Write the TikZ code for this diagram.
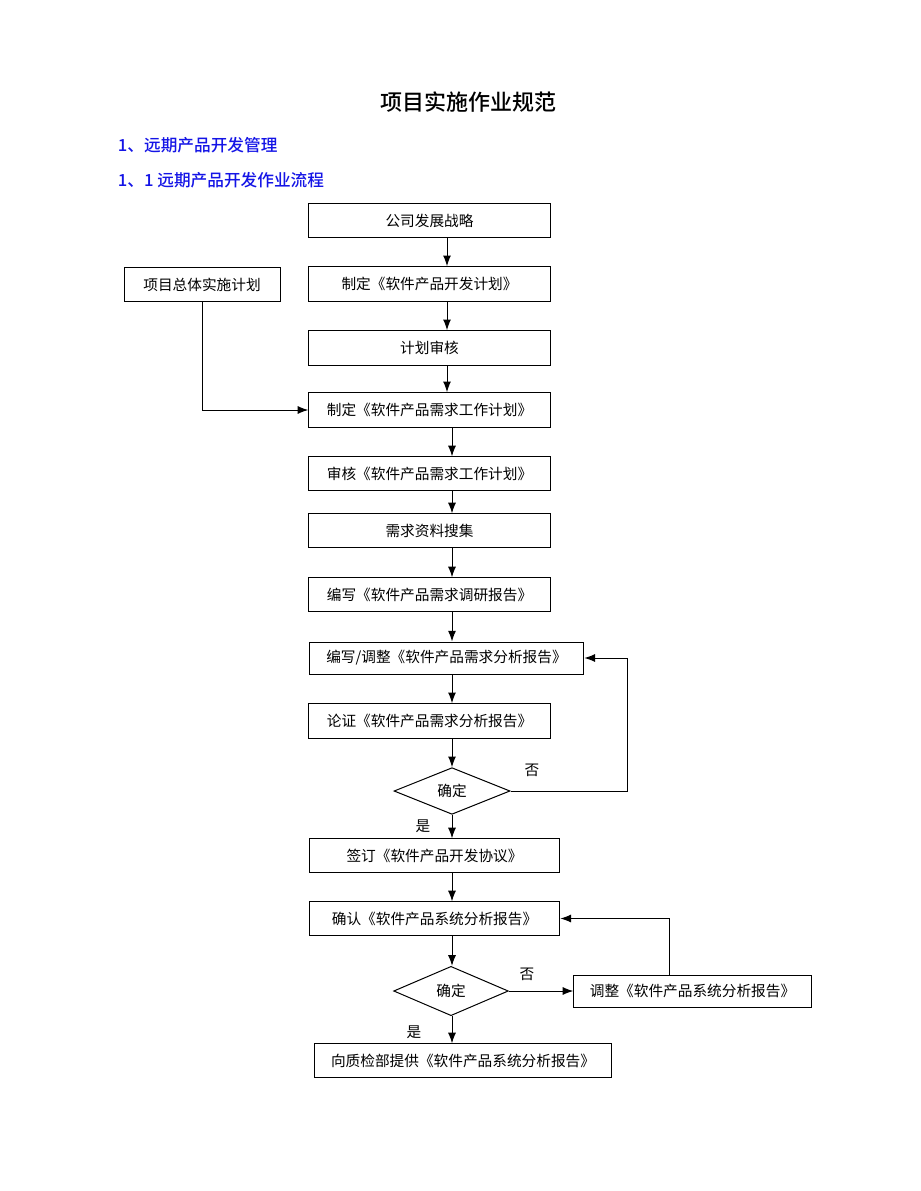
\documentclass[tikz,border=0pt]{standalone}
\usepackage{fontspec}
\setmainfont{Liberation Serif}
\newfontfamily\cjk{Noto Sans CJK SC}
\newfontfamily\cjkb{Noto Sans CJK SC Medium}
\usetikzlibrary{shapes.geometric,arrows.meta}
\definecolor{headblue}{RGB}{20,20,230}
\tikzset{every picture/.style={line width=0.75pt}}
\tikzset{
  box/.style={draw,rectangle,inner sep=0pt,font=\cjk\fontsize{11}{13}\selectfont},
  dia/.style={draw,diamond,aspect=2.4,inner sep=0pt,minimum width=87pt,minimum height=35pt,font=\cjk\fontsize{11}{13}\selectfont},
  arr/.style={-{Latex[length=8pt,width=6pt]}},
  lbl/.style={font=\cjk\fontsize{11}{13}\selectfont}
}
\begin{document}
\begin{tikzpicture}[x=0.75pt,y=0.75pt,yscale=-1,xscale=1]
\useasboundingbox (0,0) rectangle (920,1191);

% Headings
\node[font=\cjkb\fontsize{16.5}{18}\selectfont] (title) at (468,102) {项目实施作业规范};
\node[anchor=west,text=headblue,font=\cjkb\fontsize{12.5}{14}\selectfont] (h1) at (113,145) {1、远期产品开发管理};
\node[anchor=west,text=headblue,font=\cjkb\fontsize{12.5}{14}\selectfont] (h2) at (113,180) {1、1 远期产品开发作业流程};

% Boxes
\node[box,minimum width=181pt,minimum height=26pt] (strat) at (429.5,220.5) {公司发展战略};
\node[box,minimum width=181pt,minimum height=26pt] (devplan) at (429.5,284) {制定《软件产品开发计划》};
\node[box,minimum width=117pt,minimum height=26pt] (total) at (202,284.5) {项目总体实施计划};
\node[box,minimum width=181pt,minimum height=26pt] (review) at (429.5,348) {计划审核};
\node[box,minimum width=181pt,minimum height=26pt] (reqplan) at (429.5,410) {制定《软件产品需求工作计划》};
\node[box,minimum width=181pt,minimum height=25pt] (reqrev) at (429.5,473.5) {审核《软件产品需求工作计划》};
\node[box,minimum width=181pt,minimum height=25pt] (collect) at (429.5,530.5) {需求资料搜集};
\node[box,minimum width=181pt,minimum height=25pt] (survey) at (429.5,594.5) {编写《软件产品需求调研报告》};
\node[box,minimum width=206pt,minimum height=24pt] (analysis) at (446.5,658) {编写/调整《软件产品需求分析报告》};
\node[box,minimum width=181pt,minimum height=26pt] (prove) at (429.5,721) {论证《软件产品需求分析报告》};
\node[dia] (ok1) at (452,791) {确定};
\node[box,minimum width=188pt,minimum height=25pt] (sign) at (434.5,855.5) {签订《软件产品开发协议》};
\node[box,minimum width=188pt,minimum height=25pt] (confirm) at (434.5,918.5) {确认《软件产品系统分析报告》};
\node[dia,minimum width=86pt,minimum height=37pt] (ok2) at (451,991) {确定};
\node[box,minimum width=178pt,minimum height=24pt] (adjust) at (692.5,991) {调整《软件产品系统分析报告》};
\node[box,minimum width=223pt,minimum height=25pt] (qa) at (463,1060.5) {向质检部提供《软件产品系统分析报告》};
\coordinate (turn1) at (627,791);

% Connectors
\draw[arr] (strat.south -| 447,0) -- (devplan.north -| 447,0);
\draw[arr] (devplan.south -| 447,0) -- (review.north -| 447,0);
\draw[arr] (review.south -| 447,0) -- (reqplan.north -| 447,0);
\draw[arr] (total.south) |- (reqplan.west);
\draw[arr] (reqplan.south -| 452,0) -- (reqrev.north -| 452,0);
\draw[arr] (reqrev.south -| 452,0) -- (collect.north -| 452,0);
\draw[arr] (collect.south -| 452,0) -- (survey.north -| 452,0);
\draw[arr] (survey.south -| 452,0) -- (analysis.north -| 452,0);
\draw[arr] (analysis.south -| 452,0) -- (prove.north -| 452,0);
\draw[arr] (prove.south -| 452,0) -- (ok1.north);
\draw[arr] (ok1.east) -- (turn1) |- (analysis.east);
\draw[arr] (ok1.south) -- (sign.north -| 452,0);
\draw[arr] (sign.south -| 452,0) -- (confirm.north -| 452,0);
\draw[arr] (confirm.south -| 452,0) -- (ok2.north -| 452,0);
\draw[arr] (ok2.east) -- (adjust.west);
\draw[arr] (adjust.north -| 669,0) |- (confirm.east);
\draw[arr] (ok2.south -| 452,0) -- (qa.north -| 452,0);

% Labels
\node[lbl] (no1) at (532,770) {否};
\node[lbl] (yes1) at (423,826) {是};
\node[lbl] (no2) at (527,974) {否};
\node[lbl] (yes2) at (414,1032) {是};
\end{tikzpicture}
\end{document}
